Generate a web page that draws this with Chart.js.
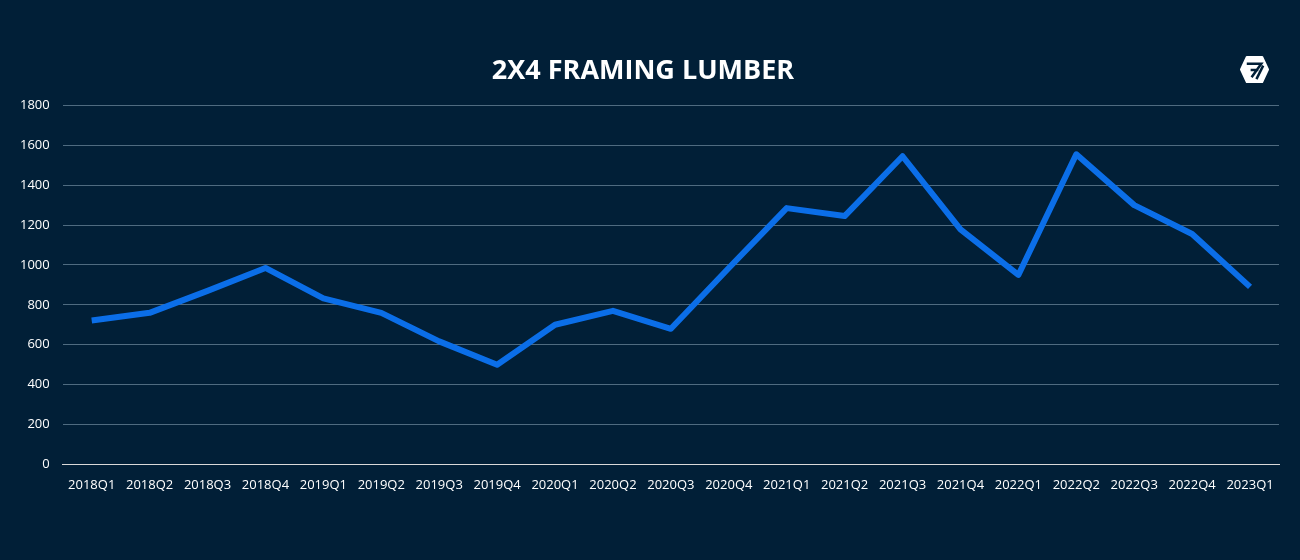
<!DOCTYPE html>
<html><head><meta charset="utf-8">
<script src="https://cdn.jsdelivr.net/npm/chart.js@4/dist/chart.umd.min.js"></script>
<style>
html,body{margin:0;padding:0;background:#011f37;}
#wrap{position:relative;width:1300px;height:560px;}
#logo{position:absolute;left:1239px;top:55px;width:31px;height:29px;}
</style></head><body>
<div id="wrap"><canvas id="c" width="1300" height="560"></canvas>
<svg id="logo" viewBox="0 0 32 30"><polygon points="8,2 24,2 30,15 24,28 8,28 2,15" fill="#fff" stroke="#fff" stroke-width="2" stroke-linejoin="round"/><path d="M8,9 L23,9 L13,23 M12,15.5 L20,15.5 M25,11 L18,25" stroke="#011f37" stroke-width="2.6" fill="none"/></svg>
</div>
<script>
const categories = ['2018Q1','2018Q2','2018Q3','2018Q4','2019Q1','2019Q2','2019Q3','2019Q4','2020Q1','2020Q2','2020Q3','2020Q4','2021Q1','2021Q2','2021Q3','2021Q4','2022Q1','2022Q2','2022Q3','2022Q4','2023Q1'];
const lumberPrices = [722,760,870,985,832,760,617,500,700,770,680,985,1285,1245,1545,1178,950,1555,1300,1155,890];
const yTicks = [0,200,400,600,800,1000,1200,1400,1600,1800];

new Chart(document.getElementById('c'), {
  type: 'line',
  data: { labels: categories, datasets: [{ data: lumberPrices, borderColor: '#0b6ee8', borderWidth: 6, pointRadius: 0, tension: 0, fill: false, borderJoinStyle: 'round', borderCapStyle: 'butt' }] },
  options: {
    responsive: false, animation: false,
    layout: { padding: { left: 7, right: 21, top: 0, bottom: 54 } },
    plugins: {
      legend: { display: false }, tooltip: { enabled: false },
      title: { display: true, text: '2X4 FRAMING LUMBER', color: '#ffffff', font: { family: 'Open Sans', size: 27, weight: 'bold' }, padding: { top: 55, bottom: 18 } }
    },
    scales: {
      x: { offset: true, grid: { display: false, drawTicks: false }, border: { display: true, color: '#d9d9d9', width: 1 },
           ticks: { color: '#ffffff', font: { family: 'Open Sans', size: 13 }, maxRotation: 0, autoSkip: false, padding: 13 } },
      y: { min: 0, max: 1800, afterBuildTicks: a => { a.ticks = yTicks.map(v => ({ value: v })); },
           grid: { color: ctx => ctx.tick && ctx.tick.value === 0 ? '#d9d9d9' : '#4f6b80', drawTicks: false, lineWidth: 1 },
           border: { display: false },
           ticks: { color: '#ffffff', font: { family: 'Open Sans', size: 13 }, padding: 13, callback: v => String(v) } }
    }
  }
});
</script></body></html>
